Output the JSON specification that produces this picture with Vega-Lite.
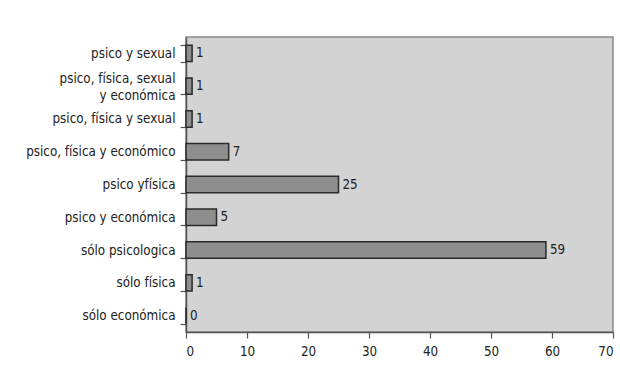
{
  "$schema": "https://vega.github.io/schema/vega-lite/v6.json",
  "autosize": "none",
  "width": 427,
  "height": 295,
  "padding": {"left": 186, "top": 37, "right": 7, "bottom": 38},
  "background": "white",
  "config": {
    "font": "DejaVu Sans Condensed, Liberation Sans, sans-serif",
    "view": {"fill": "#d3d3d3", "stroke": "#8a8a8a", "strokeWidth": 1.5}
  },
  "data": {
    "values": [
      {"tipo": "psico y sexual", "n": 1},
      {"tipo": "psico, física, sexual|y económica", "n": 1},
      {"tipo": "psico, física y sexual", "n": 1},
      {"tipo": "psico, física y económico", "n": 7},
      {"tipo": "psico yfísica", "n": 25},
      {"tipo": "psico y económica", "n": 5},
      {"tipo": "sólo psicologica", "n": 59},
      {"tipo": "sólo física", "n": 1},
      {"tipo": "sólo económica", "n": 0}
    ]
  },
  "encoding": {
    "y": {
      "field": "tipo", "type": "nominal", "sort": null,
      "scale": {"paddingInner": 0.5, "paddingOuter": 0.25},
      "axis": {
        "title": null, "labelExpr": "datum.value ? split(datum.value, '|') : ''",
        "labelFontSize": 13.3, "labelColor": "#222", "labelPadding": 5,
        "labelLineHeight": 17, "labelBaseline": "middle",
        "labelOffset": {"expr": "indexof(datum.value || '', '|') >= 0 ? -8 : 0"},
        "domainColor": "#555", "domainWidth": 1.5,
        "tickColor": "#555", "tickSize": 6, "tickBand": "extent", "tickWidth": 1.2
      }
    },
    "x": {
      "field": "n", "type": "quantitative",
      "scale": {"domain": [0, 70], "nice": false},
      "axis": {
        "title": null, "values": [0,10,20,30,40,50,60,70], "grid": false,
        "labelFontSize": 13.3, "labelColor": "#222", "labelPadding": 6,
        "domainColor": "#555", "domainWidth": 1.5,
        "tickColor": "#555", "tickSize": 6, "tickWidth": 1.2
      }
    }
  },
  "layer": [
    {"mark": {"type": "bar", "fill": "#8e8e8e", "stroke": "#2a2a2a", "strokeWidth": 1.5}},
    {"mark": {"type": "text", "align": "left", "dx": 4, "fontSize": 13.3, "color": "#222"},
     "encoding": {"text": {"field": "n"}}}
  ]
}
